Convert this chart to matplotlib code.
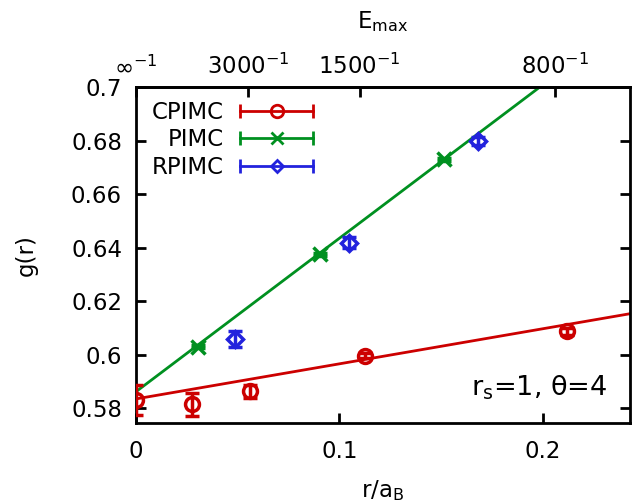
import matplotlib
matplotlib.use('Agg')
import matplotlib.pyplot as plt
import numpy as np
from matplotlib.lines import Line2D
from matplotlib.legend_handler import HandlerBase

# data
cpimc_x = [0.0, 0.0276, 0.0562, 0.1128, 0.2118]
cpimc_y = [0.5831, 0.5815, 0.5863, 0.5997, 0.6087]
cpimc_err = [0.0056, 0.0043, 0.0024, 0.0010, 0.0013]

pimc_x = [0.0305, 0.0906, 0.1512]
pimc_y = [0.6030, 0.6375, 0.6730]
pimc_err = [0.0005, 0.0005, 0.0005]

rpimc_x = [0.0488, 0.1049, 0.1680]
rpimc_y = [0.6058, 0.6418, 0.6797]
rpimc_err = [0.0030, 0.0020, 0.0015]

# linear fits (intercept, slope)
cpimc_fit = (0.5835, 0.131)
pimc_fit = (0.5862, 0.573)

emax = ['∞', '3000', '1500', '800']
emax_val = [np.inf, 3000, 1500, 800]
scale = 165.0  # r/a_B position = scale / E_max

red = '#cc0000'
green = '#009020'
blue = '#2222dd'

plt.rcParams['font.family'] = ['DejaVu Sans']
plt.rcParams['font.size'] = 16.5
plt.rcParams['axes.linewidth'] = 2

fig = plt.figure(figsize=(6.34, 5.04), dpi=100)
ax = fig.add_axes([0.2145, 0.1607, 0.7792, 0.6667])

xmin, xmax = 0.0, 0.2429
ymin, ymax = 0.5745, 0.7

xx = np.array([xmin, xmax])
ax.plot(xx, cpimc_fit[0] + cpimc_fit[1] * xx, color=red, lw=2, zorder=2)
ax.plot(xx, pimc_fit[0] + pimc_fit[1] * xx, color=green, lw=2, zorder=2)

ax.errorbar(cpimc_x, cpimc_y, yerr=cpimc_err, fmt='o', ms=10, mfc='none', mec=red,
            mew=2.5, color=red, elinewidth=2.5, capsize=5, capthick=2.5, zorder=3)
ax.errorbar(pimc_x, pimc_y, yerr=pimc_err, fmt='x', ms=10, mew=2.5, color=green,
            elinewidth=2, capsize=5, capthick=2, zorder=3)
ax.errorbar(rpimc_x, rpimc_y, yerr=rpimc_err, fmt='D', ms=8, mfc='none', mec=blue,
            mew=2.5, color=blue, elinewidth=2.5, capsize=5, capthick=2.5, zorder=3)

ax.set_xlim(xmin, xmax)
ax.set_ylim(ymin, ymax)
ax.set_xticks([0, 0.1, 0.2])
ax.set_xticklabels(['0', '0.1', '0.2'])
ax.set_yticks([0.58, 0.6, 0.62, 0.64, 0.66, 0.68, 0.7])
ax.set_yticklabels(['0.58', '0.6', '0.62', '0.64', '0.66', '0.68', '0.7'])
ax.tick_params(direction='in', length=7, width=2, right=True, pad=10)
ax.tick_params(axis='x', pad=12)
ax.set_xlabel('r/a$_\\mathrm{B}$', labelpad=11)
ax.set_ylabel('g(r)', labelpad=24)

top = ax.secondary_xaxis('top')
top.set_xticks([0 if np.isinf(e) else scale / e for e in emax_val])
top.set_xticklabels([e + '$^{-1}$' for e in emax])
top.tick_params(direction='in', length=7, width=2, pad=6)
top.set_xlabel('E$_\\mathrm{max}$', labelpad=18)

ax.text(0.955, 0.104, 'r$_\\mathrm{s}$=1, θ=4', transform=ax.transAxes,
        ha='right', va='center', fontsize=19.5)


class ErrHandler(HandlerBase):
    def create_artists(self, legend, orig, xd, yd, w, h, fs, trans):
        c = orig.get_color()
        y = h / 2 - yd
        x0, x1 = -xd, -xd + w
        line = Line2D([x0, x1], [y, y], color=c, lw=2, transform=trans)
        caps = Line2D([x0, x1], [y, y], ls='none', marker='|', ms=10, mew=2,
                      color=c, transform=trans)
        mk = Line2D([(x0 + x1) / 2], [y], ls='none', marker=orig.get_marker(),
                    ms=orig.get_markersize(), mfc='none', mec=c, mew=2, transform=trans)
        return [line, caps, mk]


handles = [Line2D([], [], color=red, marker='o', ms=9),
           Line2D([], [], color=green, marker='x', ms=9),
           Line2D([], [], color=blue, marker='D', ms=6)]
ax.legend(handles, ['CPIMC', 'PIMC', 'RPIMC'], loc='upper left',
          bbox_to_anchor=(0.009, 0.993), frameon=False, markerfirst=False,
          handlelength=3.2, handletextpad=0.7, labelspacing=0.2, borderpad=0,
          handler_map={Line2D: ErrHandler()})

fig.savefig('out.png', dpi=100)
